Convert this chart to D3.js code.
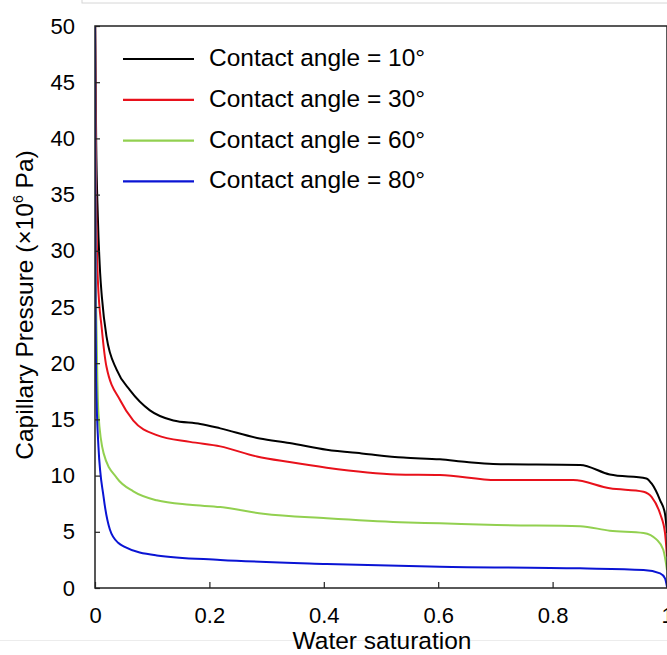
<!DOCTYPE html>
<html>
<head>
<meta charset="utf-8">
<script src="https://cdn.jsdelivr.net/npm/d3@7"></script>
<style>
  body { margin: 0; background: #fff; }
  svg { display: block; font-family: "Liberation Sans", Arial, sans-serif; }
</style>
</head>
<body>
<svg id="chart" width="667" height="655"></svg>
<script>
// water saturation / capillary pressure (x10^6 Pa)
const labels = ['Contact angle = 10°', 'Contact angle = 30°', 'Contact angle = 60°', 'Contact angle = 80°']
const colors = ['#000000', '#e8111b', '#92d050', '#0a14d4']

const angle10 = [[0,52],[0.002,40],[0.005,33],[0.009,28],[0.012,25.9],[0.02,22.4],[0.038,19.4],[0.061,17.6],[0.096,15.8],[0.137,14.9],[0.184,14.6],[0.219,14.2],[0.288,13.3],[0.34,12.9],[0.405,12.3],[0.47,11.95],[0.539,11.6],[0.603,11.45],[0.65,11.2],[0.696,11.03],[0.848,10.95],[0.9,10.1],[0.964,9.75],[0.973,9.3],[0.988,7.8],[0.9965,6.6],[1,4.9]]
const angle30 = [[0,52],[0.002,35],[0.005,27.4],[0.012,23],[0.02,19.7],[0.044,16.7],[0.067,14.9],[0.108,13.6],[0.166,13.0],[0.219,12.6],[0.283,11.7],[0.34,11.2],[0.405,10.7],[0.527,10.1],[0.603,10.05],[0.702,9.6],[0.836,9.6],[0.9,8.87],[0.959,8.57],[0.973,8.1],[0.988,6.6],[0.9965,4.9],[1,2.8]]
const angle60 = [[0,52],[0.001,30],[0.003,22],[0.006,15.5],[0.015,12],[0.038,9.8],[0.067,8.6],[0.108,7.8],[0.166,7.4],[0.219,7.2],[0.294,6.6],[0.405,6.2],[0.533,5.85],[0.603,5.75],[0.702,5.6],[0.848,5.5],[0.9,5.1],[0.959,4.9],[0.982,4.3],[0.9935,3.4],[1,1.6]]
const angle80 = [[0,52],[0.001,25],[0.002,18.5],[0.006,12.6],[0.015,8.1],[0.026,5.2],[0.041,4.0],[0.05,3.7],[0.108,2.9],[0.219,2.5],[0.405,2.14],[0.603,1.9],[0.848,1.75],[0.959,1.6],[0.988,1.3],[0.9965,0.86],[1,0.1]]
const series = [angle10, angle30, angle60, angle80]

const xTicks = [0, 0.2, 0.4, 0.6, 0.8, 1]
const yTicks = [0, 5, 10, 15, 20, 25, 30, 35, 40, 45, 50]

const svg = d3.select('#chart')
const mLeft = 95, mRight = 667, mTop = 26, mBottom = 588

const x = d3.scaleLinear().domain([0, 1]).range([mLeft, mRight])
const y = d3.scaleLinear().domain([0, 50]).range([mBottom, mTop])

// faint page borders seen in the screenshot
svg.append('rect').attr('x', 82).attr('y', -10).attr('width', 700).attr('height', 13)
  .attr('fill', 'none').attr('stroke', '#d6d6d6')
svg.append('line').attr('x1', 0).attr('x2', 667).attr('y1', 640.5).attr('y2', 640.5)
  .attr('stroke', '#ececec')

svg.append('defs').append('clipPath').attr('id', 'plotClip')
  .append('rect').attr('x', mLeft).attr('y', mTop).attr('width', mRight - mLeft).attr('height', mBottom - mTop)

// lines
const line = d3.line().x(d => x(d[0])).y(d => y(d[1])).curve(d3.curveMonotoneX)
svg.append('g').attr('clip-path', 'url(#plotClip)')
  .selectAll('path')
  .data(series)
  .enter()
  .append('path')
  .attr('d', line)
  .attr('fill', 'none')
  .attr('stroke', (d, i) => colors[i])
  .attr('stroke-width', 2)

// frame
svg.append('rect').attr('x', mLeft).attr('y', mTop).attr('width', mRight - mLeft).attr('height', mBottom - mTop)
  .attr('fill', 'none').attr('stroke', '#222').attr('stroke-width', 1.5)

// axes, ticks inside
const xAxis = svg.append('g').attr('transform', 'translate(0,' + mBottom + ')')
  .call(d3.axisBottom(x).tickValues(xTicks).tickSizeInner(-6).tickSizeOuter(0).tickPadding(19).tickFormat(d3.format('')))
const yAxis = svg.append('g').attr('transform', 'translate(' + mLeft + ',0)')
  .call(d3.axisLeft(y).tickValues(yTicks).tickSizeInner(-5).tickSizeOuter(0).tickPadding(20))
;[xAxis, yAxis].forEach(g => {
  g.select('.domain').remove()
  g.selectAll('line').attr('stroke', '#222').attr('stroke-width', 1.2)
  g.selectAll('text').attr('font-size', 22).attr('fill', '#000')
    .style('font-family', '"Liberation Sans", Arial, sans-serif')
})

// axis titles
svg.append('text').attr('x', 382).attr('y', 649).attr('text-anchor', 'middle')
  .attr('font-size', 24.5).text('Water saturation')
const yTitle = svg.append('text')
  .attr('transform', 'translate(33,305) rotate(-90)')
  .attr('text-anchor', 'middle').attr('font-size', 24.5)
yTitle.append('tspan').text('Capillary Pressure (×10')
yTitle.append('tspan').attr('font-size', 14).attr('dy', -10).text('6')
yTitle.append('tspan').attr('dy', 10).text(' Pa)')

// legend
const legend = svg.append('g')
labels.forEach((name, i) => {
  const ly = 59 + i * 40.8
  legend.append('line').attr('x1', 123).attr('x2', 194).attr('y1', ly).attr('y2', ly)
    .attr('stroke', colors[i]).attr('stroke-width', 2.2)
  legend.append('text').attr('x', 209).attr('y', ly + 7).attr('font-size', 24.5).text(name)
})
</script>
</body>
</html>
